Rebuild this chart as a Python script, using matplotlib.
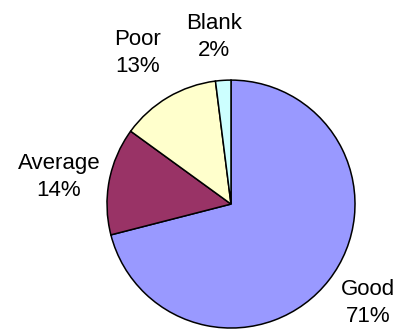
#!/usr/bin/env python3

import matplotlib
matplotlib.use("Agg")
import matplotlib.pyplot as plt

labels = ["Good", "Average", "Poor", "Blank"]
values = [71, 14, 13, 2]
colors = ["#9999FF", "#993366", "#FFFFCC", "#CCFFFF"]

# label block centres, in pie radius units
label_pos = [(1.105, -0.80), (-1.387, 0.218), (-0.75, 1.218), (-0.137, 1.347)]

plt.rcParams["font.family"] = ["Liberation Sans", "DejaVu Sans"]

fig = plt.figure(figsize=(4.0, 3.31), dpi=100)
ax = fig.add_axes([0.2675, 0.009, 0.62, 0.749])

wedges, _ = ax.pie(values, colors=colors, startangle=90, counterclock=False,
                   radius=1.0, wedgeprops=dict(edgecolor="black", linewidth=1.1))

for name, v, (x, y) in zip(labels, values, label_pos):
    ax.text(x, y, "%s\n%d%%" % (name, v), ha="center", va="center",
            fontsize=16, linespacing=1.35)

ax.set_xlim(-1, 1)
ax.set_ylim(-1, 1)
ax.set_aspect("auto")
ax.axis("off")

fig.savefig("out.png", dpi=100)
